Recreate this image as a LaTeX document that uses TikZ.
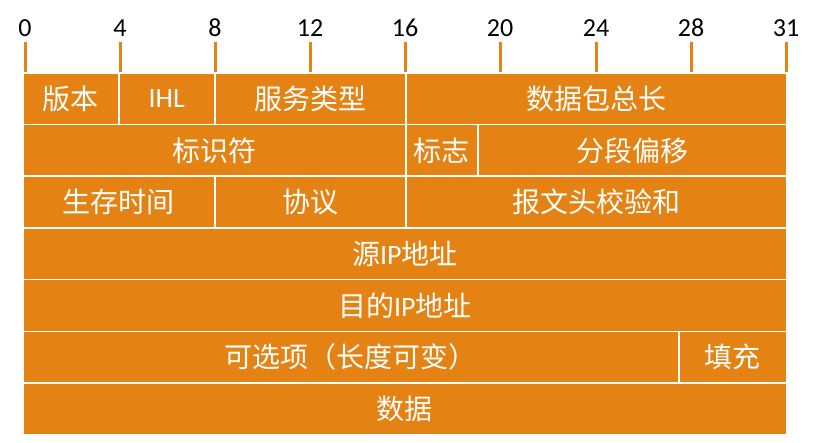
\documentclass[tikz,border=0pt]{standalone}
\usepackage{fontspec}
\setmainfont{Carlito}
\newfontfamily\cjk{Noto Sans CJK SC}
\definecolor{ipor}{RGB}{228,131,19}
\begin{document}
\begin{tikzpicture}[x=1pt,y=-1pt,
  cell/.style={draw=white,line width=1.6pt,fill=ipor,text=white,inner sep=0pt,
    anchor=north west,minimum height=51.7pt,font=\fontsize{28}{30}\selectfont},
  tickmark/.style={draw=ipor,line width=3pt},
  bitnum/.style={anchor=base,font=\fontsize{26}{28}\selectfont,text=black,inner sep=0pt}]
\useasboundingbox (0,0) rectangle (817,442);
% ruler
\foreach \b/\x in {0/25,4/120,8/215,12/310,16/405,20/500,24/596,28/691,31/786}{
  \node[bitnum] (n\b) at (\x,36) {\b};
  \coordinate (t\b) at (\x,42);
  \coordinate (u\b) at (\x,72);
  \draw[tickmark] (t\b) -- (u\b);
}
% row 1
\node[cell,minimum width=96pt] (ver) at (22,72) {\cjk 版本};
\node[cell,minimum width=96pt] (ihl) at (118,72) {IHL};
\node[cell,minimum width=191pt] (tos) at (214,72) {\cjk 服务类型};
\node[cell,minimum width=381pt] (len) at (405,72) {\cjk 数据包总长};
% row 2
\node[cell,minimum width=383pt] (id) at (22,123.7) {\cjk 标识符};
\node[cell,minimum width=72pt] (flag) at (405,123.7) {\cjk 标志};
\node[cell,minimum width=309pt] (off) at (477,123.7) {\cjk 分段偏移};
% row 3
\node[cell,minimum width=192pt] (ttl) at (22,175.4) {\cjk 生存时间};
\node[cell,minimum width=191pt] (proto) at (214,175.4) {\cjk 协议};
\node[cell,minimum width=381pt] (chk) at (405,175.4) {\cjk 报文头校验和};
% row 4,5
\node[cell,minimum width=764pt] (src) at (22,227.1) {{\cjk 源}IP{\cjk 地址}};
\node[cell,minimum width=764pt] (dst) at (22,278.8) {{\cjk 目的}IP{\cjk 地址}};
% row 6
\node[cell,minimum width=656pt] (opt) at (22,330.5) {\cjk 可选项（长度可变）};
\node[cell,minimum width=108pt] (pad) at (678,330.5) {\cjk 填充};
% row 7
\node[cell,minimum width=764pt] (data) at (22,382.2) {\cjk 数据};
\end{tikzpicture}
\end{document}
